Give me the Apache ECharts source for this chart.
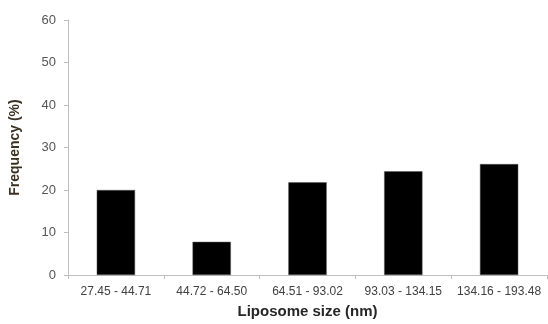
<!DOCTYPE html>
<html><head><meta charset="utf-8">
<script src="https://cdn.jsdelivr.net/npm/echarts@6/dist/echarts.min.js"></script>
<style>html,body{margin:0;padding:0;background:#fff}#c{width:548px;height:324px}</style>
</head><body><div id="c"></div>
<script>
const categories = ['27.45 - 44.71', '44.72 - 64.50', '64.51 - 93.02', '93.03 - 134.15', '134.16 - 193.48'];
const frequency = [20, 7.8, 21.8, 24.4, 26.1];
const yTicks = [0, 10, 20, 30, 40, 50, 60];

const chart = echarts.init(document.getElementById('c'), null, {renderer: 'canvas'});
chart.setOption({
  animation: false,
  grid: {left: 62, right: 1, top: 20, bottom: 49},
  xAxis: {
    type: 'category',
    data: categories,
    name: 'Liposome size (nm)',
    nameLocation: 'middle',
    nameGap: 29,
    nameTextStyle: {fontFamily: 'Liberation Sans', fontWeight: 'bold', fontSize: 15, color: '#262626'},
    axisLine: {lineStyle: {color: '#bfbfbf', width: 1}},
    axisTick: {show: true, length: 4, lineStyle: {color: '#bfbfbf'}},
    axisLabel: {interval: 0, fontFamily: 'Liberation Sans Narrow, Liberation Sans', fontSize: 12, color: '#404040', margin: 11}
  },
  yAxis: {
    type: 'value',
    min: 0, max: 60, interval: 10,
    name: 'Frequency (%)',
    nameLocation: 'middle',
    nameGap: 46,
    nameTextStyle: {fontFamily: 'Liberation Sans', fontWeight: 'bold', fontSize: 14, color: '#3a3020'},
    axisLine: {show: true, lineStyle: {color: '#bfbfbf', width: 1}},
    axisTick: {show: true, length: 4, lineStyle: {color: '#bfbfbf'}},
    axisLabel: {fontFamily: 'Liberation Sans', fontSize: 13, color: '#555555', margin: 12,
      formatter: v => yTicks.includes(v) ? String(v) : ''},
    splitLine: {show: false}
  },
  series: [{
    type: 'bar',
    data: frequency,
    barWidth: '40%',
    itemStyle: {color: '#000', borderColor: '#555', borderWidth: 0.5}
  }]
});
</script></body></html>
